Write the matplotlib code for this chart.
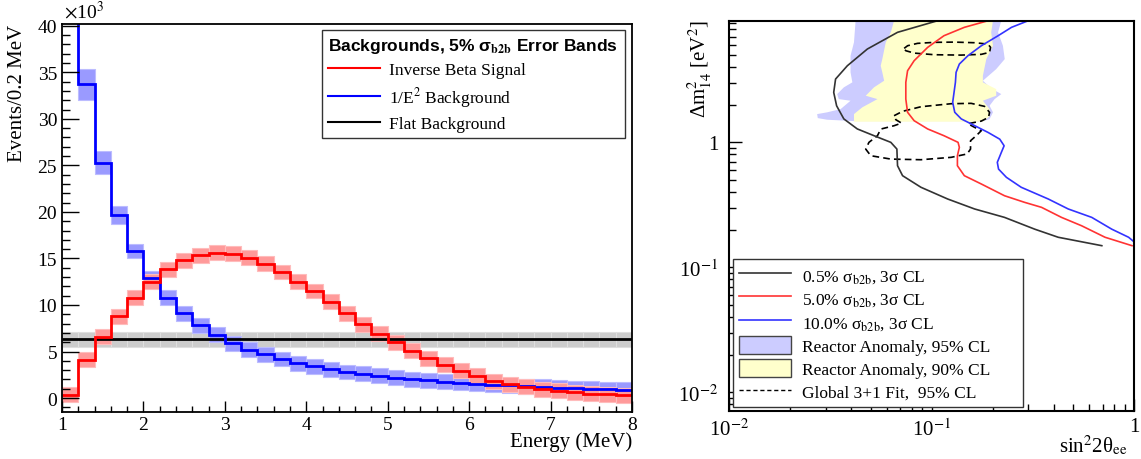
import numpy as np
import matplotlib
matplotlib.use('Agg')
import matplotlib.pyplot as plt
from matplotlib.lines import Line2D
from matplotlib.patches import Patch
from matplotlib.ticker import MultipleLocator, FixedLocator, LogLocator, NullFormatter

plt.rcParams['font.family'] = ['Liberation Serif', 'DejaVu Serif']
plt.rcParams['mathtext.fontset'] = 'stix'


# DADOS: ESPECTRO (x10^3 eventos por 0.2 MeV)

energia_bordas = np.arange(1.0, 8.0001, 0.2)

sinal_ibd = [0.35, 4.1, 6.6, 8.8, 10.8, 12.5, 13.85, 14.8, 15.35, 15.6, 15.5, 15.1,
             14.45, 13.55, 12.5, 11.5, 10.35, 9.1, 7.95, 6.93, 6.0, 5.1, 4.27, 3.6,
             2.93, 2.38, 1.8, 1.47, 1.2, 0.95, 0.78, 0.61, 0.45, 0.39, 0.3]
erro_sinal = [0.8] * 35

fundo_e2 = [47.1, 33.7, 25.3, 19.7, 15.8, 12.9, 10.8, 9.1, 7.8, 6.8, 5.9, 5.2,
            4.7, 4.2, 3.75, 3.4, 3.1, 2.8, 2.6, 2.4, 2.2, 2.0, 1.9, 1.75,
            1.64, 1.53, 1.44, 1.35, 1.27, 1.2, 1.13, 1.07, 1.01, 0.96, 0.91]
erro_e2 = [2.4, 1.7, 1.27, 0.98] + [0.8] * 31

fundo_plano = [6.3] * 35
erro_plano = [0.8] * 35


# DADOS: CURVAS DE EXCLUSAO (sin^2 2theta, dm^2)

s2t_05 = [0.107, 0.0678, 0.0481, 0.0383, 0.0335, 0.0328, 0.0339, 0.0368, 0.0429, 0.0519,
          0.0628, 0.0673, 0.0678, 0.0718, 0.0885, 0.120, 0.163, 0.229, 0.323, 0.422, 0.693]
dm2_05 = [9.4, 7.59, 5.58, 4.10, 3.21, 2.51, 1.96, 1.54, 1.28, 1.13,
          1.0, 0.884, 0.650, 0.541, 0.437, 0.352, 0.293, 0.251, 0.202, 0.174, 0.149]

s2t_50 = [0.190, 0.145, 0.115, 0.0955, 0.0819, 0.0760, 0.0745, 0.0745, 0.0760, 0.0819, 0.0955,
          0.115, 0.135, 0.137, 0.134, 0.134, 0.145, 0.176, 0.229, 0.288, 0.349, 0.438, 0.551,
          0.719, 0.977]
dm2_50 = [9.4, 8.32, 7.13, 5.75, 4.50, 3.74, 3.02, 2.22, 1.74, 1.49, 1.28,
          1.13, 1.0, 0.912, 0.781, 0.650, 0.541, 0.464, 0.374, 0.331, 0.302, 0.251, 0.215,
          0.174, 0.149]

s2t_100 = [0.300, 0.248, 0.213, 0.176, 0.151, 0.137, 0.132, 0.131, 0.127, 0.130, 0.140,
           0.163, 0.190, 0.217, 0.228, 0.221, 0.211, 0.214, 0.234, 0.277, 0.377, 0.473,
           0.618, 0.776, 0.940, 1.0]
dm2_100 = [9.4, 8.32, 7.13, 5.93, 4.93, 4.23, 3.63, 3.02, 2.09, 1.74, 1.54,
           1.36, 1.20, 1.06, 0.939, 0.832, 0.692, 0.611, 0.525, 0.437, 0.352, 0.293,
           0.251, 0.202, 0.174, 0.160]

# regioes da anomalia de reator (log10)
ra95_log_s2t = [-1.376, -1.376, -1.384, -1.401, -1.401, -1.392, -1.434, -1.467, -1.459, -1.401,
                -1.450, -1.517, -1.566, -1.563, -1.517, -1.384, -0.821, -0.755, -0.714, -0.697,
                -0.714, -0.689, -0.656, -0.706, -0.747, -0.681, -0.639, -0.648, -0.672, -0.656,
                -0.656]
ra95_log_dm2 = [1.040, 0.973, 0.800, 0.693, 0.560, 0.480, 0.440, 0.386, 0.346, 0.333,
                0.266, 0.240, 0.226, 0.194, 0.181, 0.170, 0.170, 0.165, 0.186, 0.240,
                0.293, 0.346, 0.386, 0.432, 0.493, 0.586, 0.666, 0.773, 0.880, 0.973,
                1.040]

ra90_log_s2t = [-1.186, -1.186, -1.202, -1.227, -1.244, -1.252, -1.244, -1.235, -1.285, -1.326,
                -1.268, -1.343, -1.384, -1.384, -0.747, -0.714, -0.714, -0.747, -0.681, -0.681,
                -0.747, -0.747, -0.730, -0.697, -0.706, -0.697, -0.697]
ra90_log_dm2 = [1.040, 0.973, 0.880, 0.800, 0.666, 0.613, 0.560, 0.493, 0.440, 0.373,
                0.346, 0.280, 0.226, 0.165, 0.165, 0.208, 0.266, 0.333, 0.373, 0.426,
                0.480, 0.533, 0.666, 0.773, 0.880, 0.973, 1.040]

# ajuste global 3+1 (log10)
glob_a_log_s2t = [-1.136, -1.119, -1.070, -0.987, -0.888, -0.788, -0.722, -0.709, -0.714,
                  -0.755, -0.855, -0.987, -1.086, -1.128, -1.136]
glob_a_log_dm2 = [0.752, 0.773, 0.792, 0.800, 0.802, 0.797, 0.786, 0.760, 0.720,
                  0.704, 0.698, 0.701, 0.714, 0.733, 0.752]

glob_b_log_s2t = [-1.186, -1.144, -1.053, -0.904, -0.805, -0.739, -0.714, -0.719, -0.755,
                  -0.821, -0.788, -0.755, -0.780, -0.808, -0.808, -0.825, -0.904, -1.053,
                  -1.202, -1.301, -1.326, -1.310, -1.268, -1.252, -1.186, -1.149, -1.177,
                  -1.186]
glob_b_log_dm2 = [0.213, 0.248, 0.285, 0.309, 0.312, 0.288, 0.240, 0.200, 0.170,
                  0.149, 0.120, 0.093, 0.053, 0.013, -0.054, -0.093, -0.120, -0.139,
                  -0.134, -0.107, -0.054, 0.000, 0.053, 0.106, 0.133, 0.154, 0.181,
                  0.213]


# FIGURA

fig = plt.figure(figsize=(11.41, 4.60), dpi=100)
ax1 = fig.add_axes([0.0543, 0.1022, 0.4996, 0.8435])
ax2 = fig.add_axes([0.6392, 0.1037, 0.3547, 0.8491])

centros = energia_bordas[:-1] + 0.1


def banda(ax, valores, erros, cor, borda):
    v = np.array(valores)
    e = np.array(erros)
    ax.bar(centros, 2 * e, bottom=v - e, width=0.2, color=cor, edgecolor=borda, linewidth=0.8)


banda(ax1, fundo_plano, erro_plano, '#cccccc', '#dedede')
banda(ax1, fundo_e2, erro_e2, '#9a9aff', '#bcbcff')
banda(ax1, sinal_ibd, erro_sinal, '#ff9a9a', '#ffbcbc')

ax1.stairs(fundo_plano, energia_bordas, baseline=None, color='black', lw=2)
ax1.stairs(fundo_e2, energia_bordas, baseline=None, color='#0000ff', lw=2)
ax1.stairs(sinal_ibd, energia_bordas, baseline=None, color='#ff0000', lw=2)

ax1.set_xlim(1, 8)
ax1.set_ylim(-1.5, 40.2)
ax1.xaxis.set_major_locator(MultipleLocator(1))
ax1.xaxis.set_minor_locator(MultipleLocator(0.2))
ax1.yaxis.set_major_locator(MultipleLocator(5))
ax1.yaxis.set_minor_locator(MultipleLocator(1))
ax1.tick_params(which='both', direction='in', top=False, right=False, labelsize=14)
ax1.tick_params(axis='y', which='major', length=12, width=1)
ax1.tick_params(axis='y', which='minor', length=6, width=1)
ax1.tick_params(axis='x', which='major', length=8, width=1, pad=3)
ax1.tick_params(axis='x', which='minor', length=4, width=1)
for s in ax1.spines.values():
    s.set_linewidth(1.3)

leg1 = ax1.legend(
    handles=[Line2D([], [], color='#ff0000', lw=1.5),
             Line2D([], [], color='#0000ff', lw=1.5),
             Line2D([], [], color='black', lw=1.5)],
    labels=['Inverse Beta Signal', '1/E$^{2}$ Background', 'Flat Background'],
    title='Backgrounds, 5% σ$_{\\mathbf{b2b}}$ Error Bands',
    title_fontproperties={'family': 'Liberation Sans', 'weight': 'bold', 'size': 12.5},
    loc='upper left', bbox_to_anchor=(0.456, 0.719, 0.532, 0.266), mode='expand',
    fontsize=12.5, frameon=True, fancybox=False, edgecolor='#333333', framealpha=1,
    handlelength=3.0, handletextpad=0.5, labelspacing=0.4, borderpad=0.35,
    borderaxespad=0, alignment='left')
leg1.get_frame().set_linewidth(1.0)

fig.text(0.056, 1 - 12 / 460, r'$\times$10$^{3}$', fontsize=14, va='center', ha='left')
fig.text(18 / 1141, 1 - 25 / 460, 'Events/0.2 MeV', rotation=90, fontsize=15,
         va='top', ha='center')
fig.text(632 / 1141, 1 - 442 / 460, 'Energy (MeV)', fontsize=15, va='center', ha='right')


# PAINEL DA DIREITA: SENSIBILIDADE

ax2.set_xscale('log')
ax2.set_yscale('log')
ax2.fill(10 ** np.array(ra95_log_s2t), 10 ** np.array(ra95_log_dm2), color='#ccccff', lw=0)
ax2.fill(10 ** np.array(ra90_log_s2t), 10 ** np.array(ra90_log_dm2), color='#ffffcc', lw=0)

ax2.plot(10 ** np.array(glob_a_log_s2t), 10 ** np.array(glob_a_log_dm2), color='black',
         lw=1.2, dashes=(4, 2.5))
ax2.plot(10 ** np.array(glob_b_log_s2t), 10 ** np.array(glob_b_log_dm2), color='black',
         lw=1.2, dashes=(4, 2.5))

ax2.plot(s2t_05, dm2_05, color='#333333', lw=1.2)
ax2.plot(s2t_50, dm2_50, color='#ff3333', lw=1.2)
ax2.plot(s2t_100, dm2_100, color='#3333ff', lw=1.2)

ax2.set_xlim(0.01, 1)
ax2.set_ylim(0.00705, 9.4)
ax2.xaxis.set_major_locator(FixedLocator([0.01, 0.1, 1]))
ax2.set_xticklabels(['10$^{-2}$', '10$^{-1}$', ''])
ax2.yaxis.set_major_locator(FixedLocator([0.01, 0.1, 1]))
ax2.set_yticklabels(['10$^{-2}$', '10$^{-1}$', '1'])
ax2.xaxis.set_minor_locator(LogLocator(base=10, subs=np.arange(2, 10)))
ax2.yaxis.set_minor_locator(LogLocator(base=10, subs=np.arange(2, 10)))
ax2.xaxis.set_minor_formatter(NullFormatter())
ax2.yaxis.set_minor_formatter(NullFormatter())
ax2.tick_params(which='both', direction='in', top=False, right=False, labelsize=15)
ax2.tick_params(which='major', length=9, width=1, pad=8)
ax2.tick_params(axis='x', which='major', pad=5)
ax2.tick_params(which='minor', length=5, width=1)
for s in ax2.spines.values():
    s.set_linewidth(1.5)
# rotulo "1" do eixo x fica no canto, acima do titulo do eixo
fig.text(1134 / 1141, 1 - 428 / 460, '1', fontsize=15, va='center', ha='center')

leg2 = ax2.legend(
    handles=[Line2D([], [], color='#333333', lw=1.2),
             Line2D([], [], color='#ff3333', lw=1.2),
             Line2D([], [], color='#3333ff', lw=1.2),
             Patch(facecolor='#ccccff', edgecolor='#444444', lw=1),
             Patch(facecolor='#ffffcc', edgecolor='#444444', lw=1),
             Line2D([], [], color='black', lw=1.0, dashes=(3, 2))],
    labels=['0.5% σ$_{\\mathrm{b2b}}$, 3σ CL',
            '5.0% σ$_{\\mathrm{b2b}}$, 3σ CL',
            '10.0% σ$_{\\mathrm{b2b}}$, 3σ CL',
            'Reactor Anomaly, 95% CL',
            'Reactor Anomaly, 90% CL',
            'Global 3+1 Fit,  95% CL'],
    loc='lower left', bbox_to_anchor=(0.009, 0.011, 0.717, 0.371), mode='expand',
    fontsize=12.5, frameon=True, fancybox=False, edgecolor='#333333', framealpha=1,
    handlelength=3.0, handleheight=1.2, handletextpad=0.6, labelspacing=0.25,
    borderpad=0.35, borderaxespad=0)
leg2.get_frame().set_linewidth(1.0)

fig.text(700 / 1141, 1 - 20 / 460, 'Δm$^{2}_{14}$ [eV$^{2}$]', rotation=90,
         fontsize=15, va='top', ha='center')
fig.text(1127 / 1141, 1 - 446 / 460, 'sin$^{2}$2θ$_{\\mathrm{ee}}$', fontsize=15,
         va='center', ha='right')

fig.savefig('out.png', dpi=100)
